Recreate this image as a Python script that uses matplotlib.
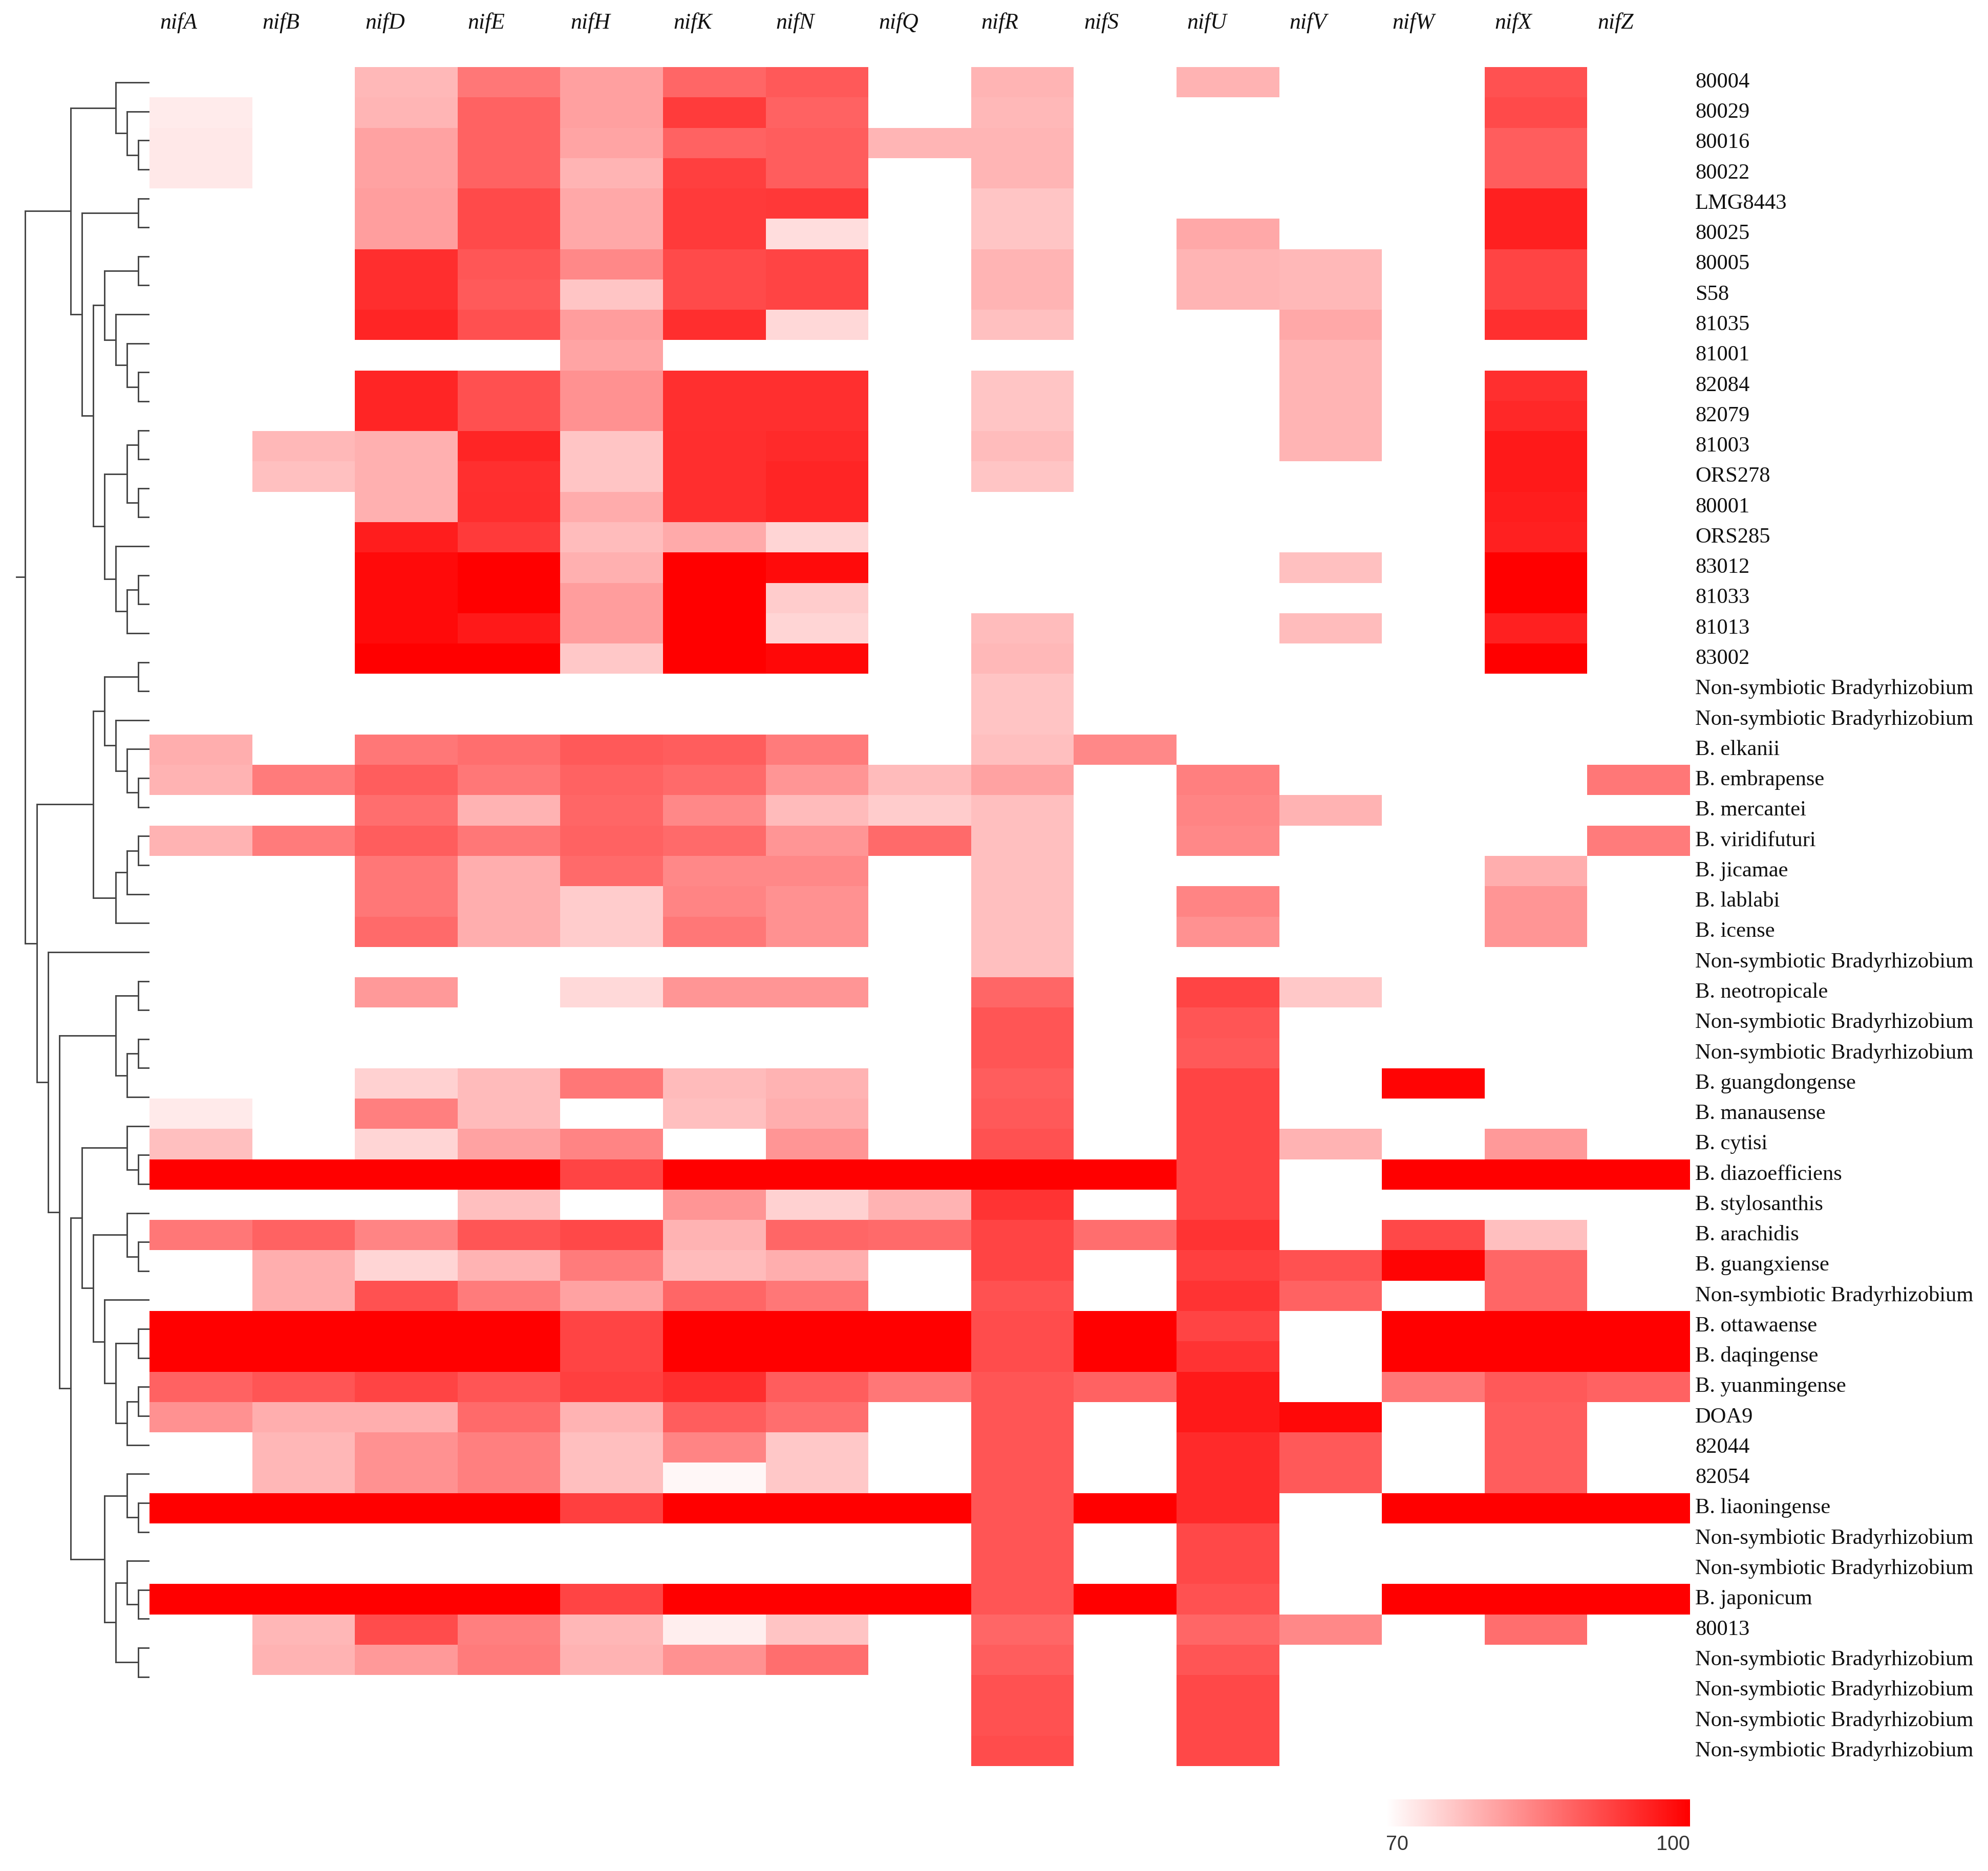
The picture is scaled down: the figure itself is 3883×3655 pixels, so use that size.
import numpy as np
import matplotlib
matplotlib.use("Agg")
import matplotlib.pyplot as plt
from matplotlib.colors import LinearSegmentedColormap
from matplotlib.collections import LineCollection

N = np.nan

genes = ['nifA', 'nifB', 'nifD', 'nifE', 'nifH', 'nifK', 'nifN', 'nifQ',
         'nifR', 'nifS', 'nifU', 'nifV', 'nifW', 'nifX', 'nifZ']

NS = 'Non-symbiotic Bradyrhizobium'
strains = ['80004', '80029', '80016', '80022', 'LMG8443', '80025', '80005', 'S58',
           '81035', '81001', '82084', '82079', '81003', 'ORS278', '80001', 'ORS285',
           '83012', '81033', '81013', '83002', NS, NS, 'B. elkanii', 'B. embrapense',
           'B. mercantei', 'B. viridifuturi', 'B. jicamae', 'B. lablabi', 'B. icense', NS,
           'B. neotropicale', NS, NS, 'B. guangdongense', 'B. manausense', 'B. cytisi',
           'B. diazoefficiens', 'B. stylosanthis', 'B. arachidis', 'B. guangxiense', NS,
           'B. ottawaense', 'B. daqingense', 'B. yuanmingense', 'DOA9', '82044', '82054',
           'B. liaoningense', NS, NS, 'B. japonicum', '80013', NS, NS, NS, NS]

# identity values (%) per gene, rows in the order of `strains`
nifA = [N, 72.4, 72.7, 72.7, N, N, N, N, N, N,
        N, N, N, N, N, N, N, N, N, N,
        N, N, 79.5, 79, N, 79, N, N, N, N,
        N, N, N, N, 72.5, 77.5, 100, N, 86, N,
        N, 100, 100, 88.5, 83, N, N, 100, N, N,
        100, N, N, N, N, N]
nifB = [N, N, N, N, N, N, N, N, N, N,
        N, N, 78.4, 77.4, N, N, N, N, N, N,
        N, N, N, 85.5, N, 85.5, N, N, N, N,
        N, N, N, N, N, N, 100, N, 88.5, 79.5,
        79.5, 100, 100, 90, 79.5, 78.5, 78.5, 100, N, N,
        100, 78.5, 79, N, N, N]
nifD = [78.4, 78.7, 81, 81, 81.4, 81.4, 94.6, 94.6, 95.6, N,
        95.6, 95.6, 79.3, 79.3, 79.3, 96.5, 98.8, 98.8, 98.8, 100,
        N, N, 86, 89, 87, 89, 86, 86, 87.5, N,
        82, N, N, 75.5, 85, 75, 100, N, 84.5, 75,
        90.5, 100, 100, 92, 79.5, 83, 83, 100, N, N,
        100, 91, 82, N, N, N]
nifE = [86, 88.5, 88.5, 88.5, 91.3, 91.3, 89.9, 89.4, 90.6, N,
        90.6, 90.6, 95.6, 94.4, 94.6, 93.2, 100, 100, 97, 100,
        N, N, 87, 86, 79, 86, 79.5, 79.5, 79.5, N,
        N, N, N, 78, 78, 81, 100, 77.5, 90, 79,
        85.5, 100, 100, 90, 87.5, 85, 85, 100, N, N,
        100, 85, 85.5, N, N, N]
nifH = [81.2, 81.2, 80.7, 78.8, 80.2, 80.2, 84, 76.9, 81.6, 80.7,
        83, 83, 76.9, 76.9, 79.8, 77.9, 79.3, 81.6, 81.6, 76.5,
        N, N, 89.5, 88.5, 88, 88.5, 87.5, 76, 76, N,
        74.5, N, N, 86, N, 84.5, 92, N, 91.5, 85.5,
        81, 92, 92, 92.5, 79, 77.5, 77.5, 92.5, N, N,
        92, 78.5, 79, N, N, N]
nifK = [88, 93, 88.5, 92.5, 93.2, 93.2, 91.3, 91.3, 94.6, N,
        94.4, 94.4, 94.6, 94.6, 94.6, 80, 100, 100, 100, 100,
        N, N, 89, 87.5, 84, 87.5, 84, 84.5, 86, N,
        82.5, N, N, 78, 77.5, N, 100, 82.5, 79, 78,
        88, 100, 100, 94.5, 89, 84.5, 71, 100, N, N,
        100, 72, 83, N, N, N]
nifN = [89.5, 88.5, 89, 89, 93.4, 74.1, 92, 92, 74.6, N,
        94.4, 94.4, 95, 95.6, 95.6, 75, 98.6, 76, 75, 99,
        N, N, 85.5, 82.5, 78, 82.5, 84, 83, 83, N,
        82.5, N, N, 79, 79.5, 82.5, 100, 75.5, 88, 79.5,
        86, 100, 100, 89, 87, 76.5, 76.5, 100, N, N,
        100, 77, 87, N, N, N]
nifQ = [N, N, 78.7, N, N, N, N, N, N, N,
        N, N, N, N, N, N, N, N, N, N,
        N, N, N, 78, 76, 87.5, N, N, N, N,
        N, N, N, N, N, N, 100, 79, 87.5, N,
        N, 100, 100, 86, N, N, N, 100, N, N,
        100, N, N, N, N, N]
nifR = [78.8, 78.4, 78.7, 78.7, 76.9, 76.9, 78.8, 78.8, 77.4, N,
        76.9, 76.9, 77.9, 76.9, N, N, N, N, 77.9, 78.4,
        77, 77, 77.5, 81, 77.5, 77.5, 77.5, 77.5, 77.5, 77.5,
        88, 90, 90, 89, 89.5, 90.5, 100, 94, 92, 92,
        90.5, 91, 91, 90, 90, 90, 90, 90, 90, 90,
        90, 88, 89, 90.5, 90.5, 91]
nifS = [N, N, N, N, N, N, N, N, N, N,
        N, N, N, N, N, N, N, N, N, N,
        N, N, 84, N, N, N, N, N, N, N,
        N, N, N, N, N, N, 100, N, 87, N,
        N, 100, 100, 88.5, N, N, N, 100, N, N,
        100, N, N, N, N, N]
nifU = [79, N, N, N, N, 80.2, 78.8, 78.8, N, N,
        N, N, N, N, N, N, N, N, N, N,
        N, N, N, 85, 84.5, 84, N, 84.5, 83, N,
        92, 90, 89.5, 92, 92, 92, 92, 92, 94, 92.5,
        94, 92, 94, 97, 97, 95, 95, 95, 91.5, 91.5,
        90.5, 88, 90, 91.5, 91.5, 91.5]
nifV = [N, N, N, N, N, N, 78.4, 78.4, 80.2, 78.8,
        78.8, 78.8, 78.8, N, N, N, 77.4, N, 77.9, N,
        N, N, N, N, 79, N, N, N, N, N,
        76.5, N, N, N, N, 79, N, N, N, 90.5,
        88.5, N, N, N, 99, 89.5, 89.5, N, N, N,
        N, 84, N, N, N, N]
nifW = [N, N, N, N, N, N, N, N, N, N,
        N, N, N, N, N, N, N, N, N, N,
        N, N, N, N, N, N, N, N, N, N,
        N, N, N, 99.5, N, N, 100, N, 91.5, 99.5,
        N, 100, 100, 86, N, N, N, 100, N, N,
        100, N, N, N, N, N]
nifX = [90.5, 91.3, 89, 89, 96.2, 96.2, 92, 92, 94.4, N,
        94.4, 95.3, 97, 97, 96.5, 96.2, 100, 100, 96.2, 100,
        N, N, N, N, N, N, 79.5, 82.5, 82.5, N,
        N, N, N, N, N, 82, 100, N, 77.5, 88,
        88, 100, 100, 89.5, 89, 89, 89, 100, N, N,
        100, 87, N, N, N, N]
nifZ = [N, N, N, N, N, N, N, N, N, N,
        N, N, N, N, N, N, N, N, N, N,
        N, N, N, 86, N, 85.5, N, N, N, N,
        N, N, N, N, N, N, 100, N, N, N,
        N, 100, 100, 88.5, N, N, N, 100, N, N,
        100, N, N, N, N, N]

# dendrogram topology (leaf = row index, top to bottom)
photo = [[0, [1, [2, 3]]],
         [[4, 5], [[[6, 7], [8, [9, [10, 11]]]],
                   [[[12, 13], [14, 15]], [16, [[17, 18], 19]]]]]]
clade_j = [[[20, 21], [22, [23, [24, 25]]]], [[[26, 27], 28], 29]]
clade_m = [[31, 32], [[33, 34], 35]]
clade_l4 = [42, [[43, 44], [[45, 46], 47]]]
clade_l6 = [[36, [37, 38]], [[39, [40, 41]], clade_l4]]
clade_l4p = [[48, [49, 50]], [[51, [52, 53]], [54, 55]]]
clade_l9 = [30, [clade_m, [clade_l6, clade_l4p]]]
tree = [photo, [clade_j, clade_l9]]

# ---------------------------------------------------------------- layout
W, H = 3883, 3655
DPI = 300
fig = plt.figure(figsize=(W / DPI, H / DPI), dpi=DPI, facecolor='white')
plt.rcParams['font.family'] = ['Liberation Serif', 'DejaVu Serif']

hm_l, hm_r, hm_t, hm_b = 292, 3301, 131, 3450


def fb(l, t, r, b):
    return [l / W, 1 - b / H, (r - l) / W, (b - t) / H]


vals = np.array([nifA, nifB, nifD, nifE, nifH, nifK, nifN, nifQ,
                 nifR, nifS, nifU, nifV, nifW, nifX, nifZ], dtype=float).T
nrow, ncol = vals.shape

cmap = LinearSegmentedColormap.from_list('wr', ['#ffffff', '#ff0000'])
cmap.set_bad('white')

ax = fig.add_axes(fb(hm_l, hm_t, hm_r, hm_b))
ax.pcolormesh(np.arange(ncol + 1), np.arange(nrow + 1), np.ma.masked_invalid(vals),
              cmap=cmap, vmin=70, vmax=100, shading='flat', antialiased=False,
              edgecolors='none')
ax.set_xlim(0, ncol)
ax.set_ylim(nrow, 0)
ax.axis('off')

col_w = (hm_r - hm_l) / ncol
ytop = 1 + (hm_t - 45) / (hm_b - hm_t)
for j, g in enumerate(genes):
    ax.text(j + 0.10, ytop, g, transform=ax.get_xaxis_transform(), ha='left',
            va='center', fontsize=10.5, style='italic', color='#111111')
for i, s in enumerate(strains):
    ax.text(ncol + 10 / col_w, i + 0.5, s, ha='left', va='center', fontsize=10.2,
            color='#111111', clip_on=False)

# ---------------------------------------------------------------- dendrogram
leaf_first, leaf_step = 161.0, 56.63   # px positions of the dendrogram leaves
lev_step = 22.05                       # px per cladogram level
axd = fig.add_axes(fb(0, hm_t, hm_l, hm_b))
axd.set_xlim(-hm_l / lev_step, 0)
axd.set_ylim((hm_b - leaf_first) / leaf_step, (hm_t - leaf_first) / leaf_step)
axd.axis('off')

segs = []


def walk(node):
    if isinstance(node, int):
        return float(node), 0
    (y1, h1), (y2, h2) = walk(node[0]), walk(node[1])
    h = max(h1, h2) + 1
    segs.append([(-h, y1), (-h, y2)])
    segs.append([(-h1, y1), (-h, y1)])
    segs.append([(-h2, y2), (-h, y2)])
    return (y1 + y2) / 2, h


ry, rh = walk(tree)
segs.append([(-rh, ry), (-(hm_l - 32) / lev_step, ry)])
axd.add_collection(LineCollection(segs, colors='#454545', linewidths=0.7,
                                  capstyle='projecting'))

# ---------------------------------------------------------------- colorbar
cb_l, cb_r, cb_t, cb_b = 2707, 3301, 3515, 3568
axc = fig.add_axes(fb(cb_l, cb_t, cb_r, cb_b))
grad = np.linspace(70, 100, 512)[None, :]
axc.imshow(grad, cmap=cmap, vmin=70, vmax=100, aspect='auto',
           extent=[70, 100, 0, 1])
axc.axis('off')
fig.text(cb_l / W, 1 - 3603 / H, '70', ha='left', va='center', fontsize=9.5,
         family=['Liberation Sans', 'DejaVu Sans'], color='#333333')
fig.text(cb_r / W, 1 - 3603 / H, '100', ha='right', va='center', fontsize=9.5,
         family=['Liberation Sans', 'DejaVu Sans'], color='#333333')

fig.savefig('out.png', dpi=DPI, facecolor='white')
